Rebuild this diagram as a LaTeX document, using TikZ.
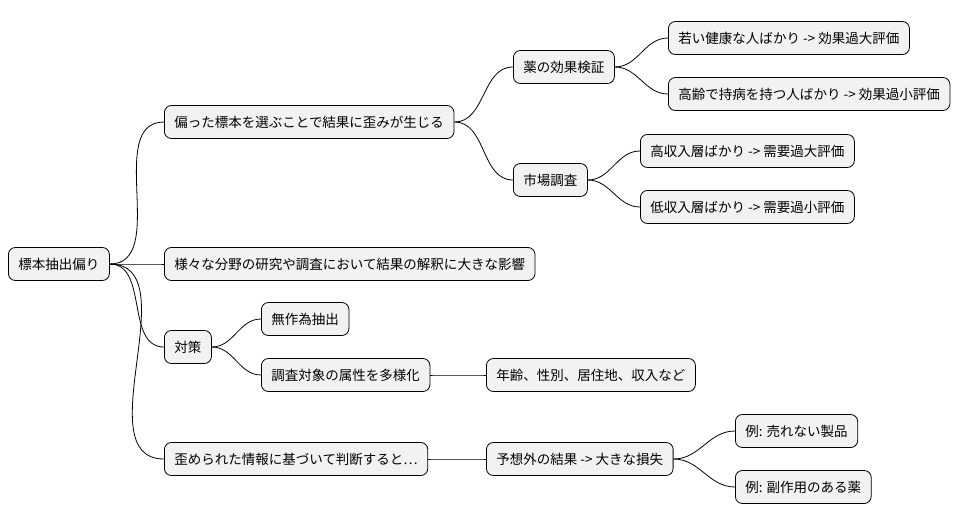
\documentclass[tikz,border=0pt]{standalone}
\usepackage{fontspec}
\setmainfont{Noto Sans CJK JP}
\begin{document}
\begin{tikzpicture}[x=1pt,y=-1pt,
  n/.style={draw=black,fill=gray!10,rounded corners=7pt,line width=0.8pt,minimum height=33pt,inner xsep=10pt,anchor=west,font=\fontsize{13.5}{15}\selectfont},
  e/.style={line width=0.8pt}]
\useasboundingbox (0,0) rectangle (976,527);
\node[n] (r) at (8,264) {標本抽出偏り};
\node[n] (a) at (164,122) {偏った標本を選ぶことで結果に歪みが生じる};
\node[n] (a1) at (513,67) {薬の効果検証};
\node[n] (a11) at (668,38) {若い健康な人ばかり -> 効果過大評価};
\node[n] (a12) at (668,94) {高齢で持病を持つ人ばかり -> 効果過小評価};
\node[n] (a2) at (513,180) {市場調査};
\node[n] (a21) at (640,151) {高収入層ばかり -> 需要過大評価};
\node[n] (a22) at (640,207) {低収入層ばかり -> 需要過小評価};
\node[n] (b) at (164,264) {様々な分野の研究や調査において結果の解釈に大きな影響};
\node[n] (c) at (164,347) {対策};
\node[n] (c1) at (261,319) {無作為抽出};
\node[n] (c2) at (261,375) {調査対象の属性を多様化};
\node[n] (c21) at (486,375) {年齢、性別、居住地、収入など};
\node[n] (d) at (164,459) {歪められた情報に基づいて判断すると…};
\node[n] (d1) at (486,459) {予想外の結果 -> 大きな損失};
\node[n] (d11) at (735,431) {例: 売れない製品};
\node[n] (d12) at (735,487) {例: 副作用のある薬};
\foreach \p/\c in {r/a,r/b,r/c,r/d,a/a1,a/a2,a1/a11,a1/a12,a2/a21,a2/a22,c/c1,c/c2,c2/c21,d/d1,d1/d11,d1/d12}
  \draw[e] (\p.east) to[out=0,in=180] (\c.west);
\end{tikzpicture}
\end{document}
